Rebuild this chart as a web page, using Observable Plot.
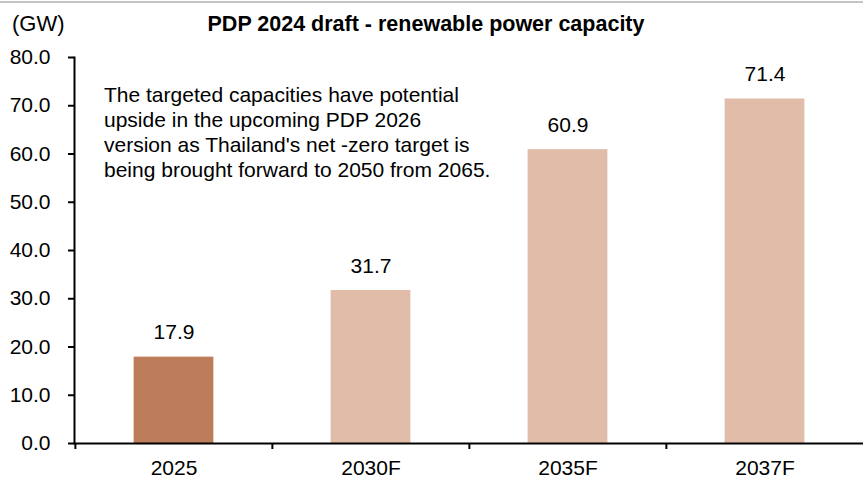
<!DOCTYPE html>
<html><head><meta charset="utf-8">
<script src="https://cdn.jsdelivr.net/npm/d3@7"></script>
<script src="https://cdn.jsdelivr.net/npm/@observablehq/plot@0.6"></script>
<style>
html,body{margin:0;padding:0;background:#fff;}
#wrap{position:relative;width:863px;height:479px;overflow:hidden;font-family:"Liberation Sans",Arial,sans-serif;color:#000;}
#topline{position:absolute;left:0;top:1px;width:863px;height:2px;background:#c4c4c4;}
#title{position:absolute;left:0;width:852px;top:14px;text-align:center;font-weight:bold;font-size:21.5px;line-height:1;white-space:nowrap;}
#unit{position:absolute;left:12px;top:12.5px;font-size:22px;line-height:1;}
#note{position:absolute;left:104px;top:82px;font-size:21px;line-height:25px;white-space:nowrap;}
#chart{position:absolute;left:0;top:0;}
</style></head>
<body>
<div id="wrap">
  <div id="chart"></div>
  <div id="topline"></div>
  <div id="title"></div>
  <div id="unit"></div>
  <div id="note"></div>
</div>
<script>
const titleText = "PDP 2024 draft - renewable power capacity";
const unitText = "(GW)";
const noteLines = [
  "The targeted capacities have potential",
  "upside in the upcoming PDP 2026",
  "version as Thailand's net -zero target is",
  "being brought forward to 2050 from 2065."
];
const categories = ["2025", "2030F", "2035F", "2037F"];
const values = [17.9, 31.7, 60.9, 71.4];
const yTicks = [0, 10, 20, 30, 40, 50, 60, 70, 80];
const barColors = ["#BE7D5A", "#E1BDA9", "#E1BDA9", "#E1BDA9"];

document.getElementById("title").textContent = titleText;
document.getElementById("unit").textContent = unitText;
document.getElementById("note").innerHTML = noteLines.map(s => s.replace(/&/g,"&amp;").replace(/</g,"&lt;")).join("<br>");

const data = categories.map((c, i) => ({cat: c, value: values[i], color: barColors[i]}));

const W = 863, H = 479, mL = 74, mR = 0, mT = 57, mB = 36;
const bw = (W - mL - mR) / categories.length;
const barW = 80;
const inset = (bw - barW) / 2;
const yMax = 80;
const tickPx = 6;
const tickUnits = tickPx * yMax / (H - mT - mB);

const plot = Plot.plot({
  width: W,
  height: H,
  marginLeft: mL,
  marginRight: mR,
  marginTop: mT,
  marginBottom: mB,
  style: {fontFamily: "'Liberation Sans', Arial, sans-serif", fontSize: "21px", color: "#000", background: "transparent"},
  x: {domain: categories, padding: 0, label: null},
  y: {domain: [0, yMax], label: null},
  marks: [
    Plot.barY(data, {x: "cat", y: "value", fill: "color", insetLeft: inset, insetRight: inset}),
    Plot.text(data, {x: "cat", y: "value", text: d => d.value.toFixed(1), dy: -18, lineAnchor: "bottom", fill: "#000"}),
    Plot.axisY({ticks: yTicks, tickFormat: d3.format(".1f"), tickSize: tickPx, tickPadding: 18, label: null, strokeWidth: 2, fill: "#000"}),
    Plot.axisX({tickSize: 0, tickPadding: 17, label: null, fill: "#000"}),
    Plot.frame({anchor: "left", strokeWidth: 2}),
    Plot.ruleY([0], {strokeWidth: 2}),
    Plot.ruleX(categories, {x: d => d, dx: -bw / 2, y1: 0, y2: -tickUnits, strokeWidth: 2})
  ]
});
document.getElementById("chart").appendChild(plot);
</script>
</body></html>
